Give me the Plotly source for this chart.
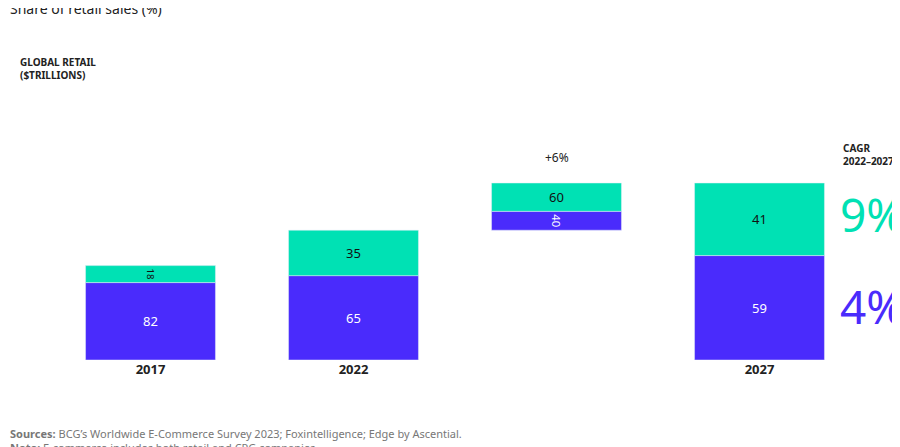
import plotly.graph_objects as go

cats = ["2017", "2022", "delta", "2027"]
tick_labels = ["2017", "2022", "", "2027"]
totals = [8, 11, 4, 15]
bases = [0, 0, 11, 0]
ecom_share = [18, 35, 60, 41]
store_share = [82, 65, 40, 59]
cagr_ecom = "9%"
cagr_store = "4%"

PURPLE = "#4A2BFC"
GREEN = "#00E1B4"

pv = [t * s / 100 for t, s in zip(totals, store_share)]
gv = [t * s / 100 for t, s in zip(totals, ecom_share)]
gbase = [b + p for b, p in zip(bases, pv)]

fig = go.Figure()
fig.add_bar(x=cats, y=pv, base=bases, marker_color=PURPLE, width=0.64,
            text=[str(v) for v in store_share], textposition="inside", insidetextanchor="middle",
            textfont=dict(color="white", size=13, family="Noto Sans"), hoverinfo="skip")
fig.add_bar(x=cats, y=gv, base=gbase, marker_color=GREEN, width=0.64,
            text=[str(v) for v in ecom_share], textposition="inside", insidetextanchor="middle",
            textfont=dict(color="#111", size=13, family="Noto Sans"), hoverinfo="skip")
fig.add_scatter(x=cats, y=[21] * 4, mode="markers+text", cliponaxis=False,
                marker=dict(size=30, color="#222"), text=[str(t) for t in totals],
                textfont=dict(color="white", size=13, family="Noto Sans"), hoverinfo="skip")

fig.update_layout(
    width=900, height=447, barmode="overlay", showlegend=False,
    plot_bgcolor="white", paper_bgcolor="white",
    margin=dict(l=41, r=47, t=116, b=95),
    xaxis=dict(tickmode="array", tickvals=cats, ticktext=[f"<b>{t}</b>" if t else "" for t in tick_labels],
               showgrid=False, zeroline=False, showline=False, ticks="",
               tickfont=dict(size=13, color="#222", family="Noto Sans"), range=[-0.5, 3.5]),
    yaxis=dict(range=[0, 20], visible=False),
)

line = dict(color="#999", width=1)
fig.add_shape(type="line", x0="2022", x1="2022", y0=12.8, y1=17.2, line=line)
fig.add_shape(type="line", x0="2022", x1="2027", y0=17.2, y1=17.2, line=line)
fig.add_annotation(x="2027", y=15.6, ax="2027", ay=17.2, axref="x", ayref="y",
                   showarrow=True, arrowhead=2, arrowsize=1, arrowwidth=1, arrowcolor="#999", text="")
fig.add_annotation(x="delta", y=17.2, text="+6%", showarrow=False, bgcolor="white",
                   font=dict(size=12, color="#222", family="Noto Sans"))

fig.add_annotation(xref="paper", yref="paper", x=-0.038, y=1.235, xanchor="left", yanchor="middle", align="left",
                   text="<b>GLOBAL RETAIL<br>($TRILLIONS)</b>", showarrow=False,
                   font=dict(size=10, color="#222", family="Noto Sans"))
fig.add_annotation(xref="paper", yref="paper", x=0.975, y=0.87, xanchor="left", yanchor="middle", align="left",
                   text="<b>CAGR<br>2022–2027</b>", showarrow=False,
                   font=dict(size=10, color="#222", family="Noto Sans"))
fig.add_annotation(xref="paper", yref="paper", x=0.972, y=0.62, xanchor="left", yanchor="middle",
                   text=cagr_ecom, showarrow=False, font=dict(size=46, color=GREEN, family="Noto Sans"))
fig.add_annotation(xref="paper", yref="paper", x=0.972, y=0.23, xanchor="left", yanchor="middle",
                   text=cagr_store, showarrow=False, font=dict(size=46, color=PURPLE, family="Noto Sans"))

fig.add_annotation(xref="paper", yref="paper", x=-0.05, y=1.73, xanchor="left", yanchor="middle",
                   text="<b>E-commerce to lead global retail sales growth by 2027</b>", showarrow=False,
                   font=dict(size=22, color="#222", family="DejaVu Serif"))
fig.add_annotation(xref="paper", yref="paper", x=-0.05, y=1.49, xanchor="left", yanchor="middle",
                   text="Share of retail sales (%)", showarrow=False,
                   font=dict(size=14, color="#222", family="Noto Sans"))
fig.add_annotation(xref="paper", yref="paper", x=-0.05, y=-0.27, xanchor="left", yanchor="top", align="left",
                   text="<b>Sources:</b> BCG’s Worldwide E-Commerce Survey 2023; Foxintelligence; Edge by Ascential.<br>"
                        "<b>Note:</b> E-commerce includes both retail and CPG companies.",
                   showarrow=False, font=dict(size=11, color="#777", family="Noto Sans"))

fig.write_html("out.html")
